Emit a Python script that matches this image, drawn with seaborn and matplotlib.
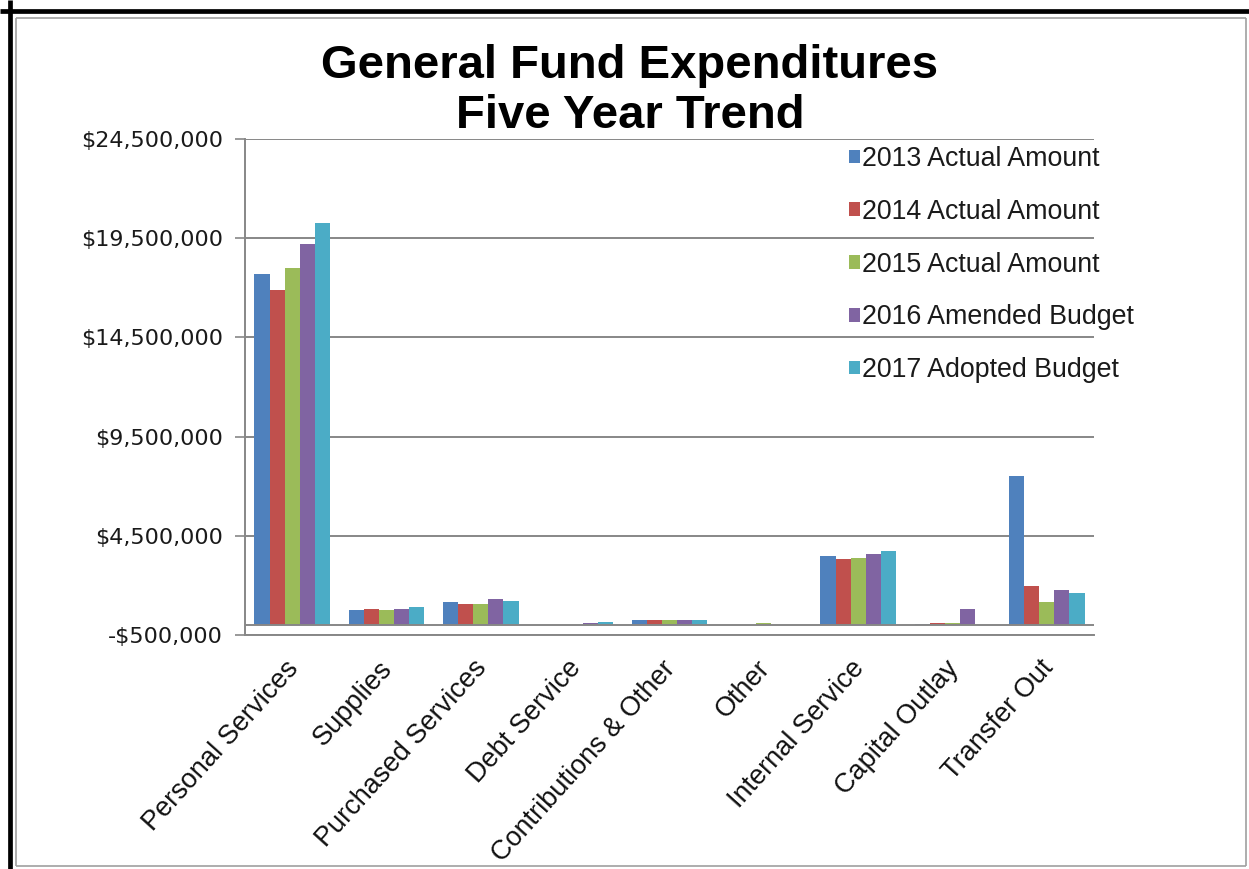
import matplotlib
matplotlib.use("Agg")
import matplotlib.pyplot as plt
from matplotlib.lines import Line2D
from matplotlib.transforms import ScaledTranslation
from matplotlib.ticker import FuncFormatter, FixedLocator
import seaborn as sns
import pandas as pd

# Expenditure categories
categories = [
    "Personal Services", "Supplies", "Purchased Services", "Debt Service",
    "Contributions & Other", "Other", "Internal Service", "Capital Outlay",
    "Transfer Out",
]

# Amounts per series, in dollars
actual_2013 = [17710000, 750000, 1160000, 0, 260000, 0, 3460000, 30000, 7510000]
actual_2014 = [16890000, 820000, 1070000, 0, 250000, 0, 3330000, 100000, 1960000]
actual_2015 = [18010000, 750000, 1070000, 0, 250000, 100000, 3400000, 90000, 1150000]
amended_2016 = [19220000, 820000, 1310000, 100000, 250000, 0, 3560000, 820000, 1790000]
adopted_2017 = [20270000, 920000, 1230000, 180000, 260000, 0, 3710000, 0, 1630000]

series_names = [
    "2013 Actual Amount", "2014 Actual Amount", "2015 Actual Amount",
    "2016 Amended Budget", "2017 Adopted Budget",
]
series_values = [actual_2013, actual_2014, actual_2015, amended_2016, adopted_2017]
series_colors = ["#4F81BD", "#C0504D", "#9BBB59", "#8064A2", "#4BACC6"]

y_ticks = [-500000, 4500000, 9500000, 14500000, 19500000, 24500000]

rows = []
for name, vals in zip(series_names, series_values):
    for cat, v in zip(categories, vals):
        rows.append({"Category": cat, "Series": name, "Amount": v})
df = pd.DataFrame(rows)

sns.set_style("white")
W, H = 1249, 869
fig = plt.figure(figsize=(W / 100, H / 100), dpi=100)
fig.patch.set_facecolor("white")

ax = fig.add_axes([245 / W, 1 - 635 / H, (1094 - 245) / W, (635 - 139) / H])

sns.barplot(
    data=df, x="Category", y="Amount", hue="Series", order=categories,
    hue_order=series_names, palette=series_colors, width=0.8, saturation=1,
    errorbar=None, ax=ax, linewidth=0,
)

grid_color = "#878787"
ax.set_ylim(y_ticks[0], y_ticks[-1])
ax.set_xlim(-0.5, len(categories) - 0.5)
ax.yaxis.set_major_locator(FixedLocator(y_ticks))
ax.yaxis.set_major_formatter(
    FuncFormatter(lambda v, _: f"-${abs(v):,.0f}" if v < 0 else f"${v:,.0f}")
)
ax.set_axisbelow(True)
ax.yaxis.grid(True, color=grid_color, linewidth=1.4)
ax.axhline(0, color=grid_color, linewidth=1.4, zorder=3)

for side in ["top", "right"]:
    ax.spines[side].set_visible(False)
for side in ["left", "bottom"]:
    ax.spines[side].set_color(grid_color)
    ax.spines[side].set_linewidth(1.4)

ax.set_xlabel("")
ax.set_ylabel("")
ax.tick_params(axis="y", left=True, length=7, width=1.2, color=grid_color,
               pad=9, labelsize=16, labelcolor="#1a1a1a")
for lbl in ax.get_yticklabels():
    lbl.set_fontfamily("DejaVu Sans")

ax.tick_params(axis="x", bottom=False, length=0, pad=21)
shift = ScaledTranslation(2 / 100, 0, fig.dpi_scale_trans)
for lbl in ax.get_xticklabels():
    lbl.set_rotation(48)
    lbl.set_ha("right")
    lbl.set_va("center")
    lbl.set_rotation_mode("anchor")
    lbl.set_fontfamily("Liberation Sans")
    lbl.set_fontsize(19.5)
    lbl.set_color("#111111")
    lbl.set_transform(lbl.get_transform() + shift)

# Legend
handles, labels = ax.get_legend_handles_labels()
leg = ax.legend(
    handles, labels, loc="upper left",
    bbox_to_anchor=(849 / W, 1 - 146 / H), bbox_transform=fig.transFigure,
    frameon=False, borderpad=0, borderaxespad=0,
    handlelength=0.4, handleheight=0.4, handletextpad=0.1,
    labelspacing=1.0, prop={"family": "Liberation Sans", "size": 19.3},
)
for t in leg.get_texts():
    t.set_color("#1a1a1a")

# Title
title_x = 630 / W
fig.text(title_x, 1 - 78 / H, "General Fund Expenditures", ha="center",
         va="baseline", fontsize=34, fontweight="bold",
         fontfamily="Liberation Sans", color="black")
fig.text(title_x, 1 - 128 / H, "Five Year Trend", ha="center",
         va="baseline", fontsize=34, fontweight="bold",
         fontfamily="Liberation Sans", color="black")

# Chart border
def fig_line(x0, y0, x1, y1, color, lw):
    fig.add_artist(Line2D([x0 / W, x1 / W], [1 - y0 / H, 1 - y1 / H],
                          transform=fig.transFigure, color=color,
                          linewidth=lw, solid_capstyle="butt"))

fig_line(9.5, 0, 9.5, H, "black", 3.4)
fig_line(0, 10.5, W, 10.5, "black", 3.4)
fig_line(16, 18, 16, 866, "#a0a0a0", 1.2)
fig_line(16, 18, 1246, 18, "#a0a0a0", 1.2)
fig_line(1246, 18, 1246, 866, "#a0a0a0", 1.2)
fig_line(16, 866, 1246, 866, "#a0a0a0", 1.2)

fig.savefig("out.png", dpi=100, facecolor="white")
